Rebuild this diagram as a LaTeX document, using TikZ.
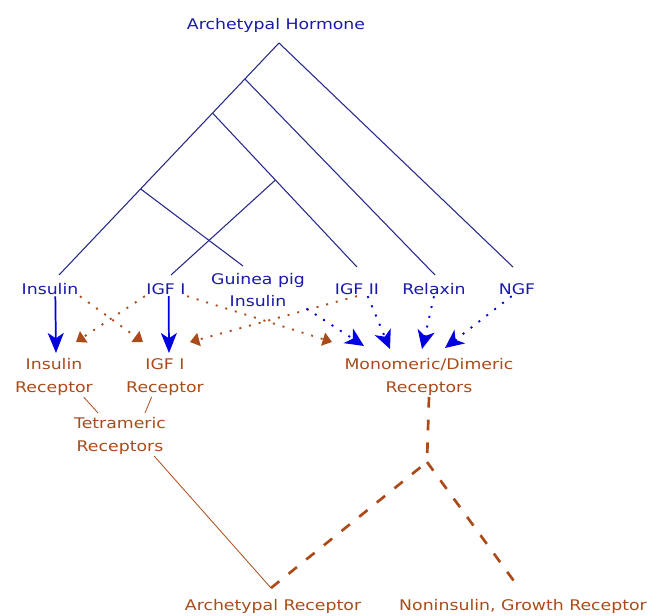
\documentclass[tikz,border=0pt]{standalone}
\usepackage{fontspec}
\setmainfont{DejaVu Sans}[FakeStretch=1.18]
\usepackage{xcolor}
\usetikzlibrary{positioning,arrows.meta,calc}
\definecolor{hormblue}{RGB}{25,25,170}
\definecolor{treeblue}{RGB}{40,40,140}
\definecolor{arrblue}{RGB}{0,0,225}
\definecolor{recbrown}{RGB}{170,75,25}

\begin{document}
\begin{tikzpicture}[
  x=0.75pt, y=-0.75pt,
  every node/.style={font=\fontsize{11}{17}\selectfont, inner sep=1pt},
  horm/.style={text=hormblue, align=center},
  rec/.style={text=recbrown, align=center},
  tree/.style={draw=treeblue, line width=0.8pt},
  bind/.style={draw=arrblue, line width=1.3pt, -{Stealth[length=15pt, width=12pt, inset=4pt]}},
  weakblue/.style={draw=arrblue, line width=1.4pt, dash pattern=on 1.5pt off 6pt, -{Stealth[length=14pt, width=13pt, inset=4pt]}},
  weakbrown/.style={draw=recbrown, line width=1.4pt, dash pattern=on 1.5pt off 6pt, -{Triangle[length=7pt, width=10pt]}},
  recline/.style={draw=recbrown, line width=0.6pt},
  recdash/.style={draw=recbrown, line width=2pt, dash pattern=on 8pt off 9pt},
]
\useasboundingbox (0,0) rectangle (657,616);

% hormones
\node[horm] (hormone) at (276,25) {Archetypal Hormone};
\node[horm] (ins) at (50,289) {Insulin};
\node[horm] (igf1) at (166,289) {IGF I};
\node[horm] (gpi) at (258,290) {Guinea pig\\Insulin};
\node[horm] (igf2) at (357,289) {IGF II};
\node[horm] (relaxin) at (434,289) {Relaxin};
\node[horm] (ngf) at (517,289) {NGF};

% receptors
\node[rec] (insrec) at (54,377) {Insulin\\Receptor};
\node[rec] (igfrec) at (165,377) {IGF I\\Receptor};
\node[rec] (monorec) at (429,377) {Monomeric/Dimeric\\Receptors};
\node[rec] (tetra) at (120,436) {Tetrameric\\Receptors};
\node[rec] (archrec) at (273,606) {Archetypal Receptor};
\node[rec] (nongrow) at (523,606) {Noninsulin, Growth Receptor};

% hormone tree
\coordinate (root) at (279,43);
\coordinate (insend) at (59,275);
\coordinate (igf1end) at (171,275);
\coordinate (gpiend) at (243,266);
\coordinate (igf2end) at (357,267);
\coordinate (relend) at (435,275);
\coordinate (ngfend) at (513,267);
\coordinate (a) at ($(root)!0.155!(insend)$);
\coordinate (b) at ($(root)!0.302!(insend)$);
\coordinate (c) at ($(root)!0.629!(insend)$);
\coordinate (d) at ($(b)!0.435!(igf2end)$);
\draw[tree] (root) -- (insend);
\draw[tree] (root) -- (ngfend);
\draw[tree] (a) -- (relend);
\draw[tree] (b) -- (igf2end);
\draw[tree] (c) -- (gpiend);
\draw[tree] (d) -- (igf1end);

% binding
\coordinate (insrec-a) at (56,353);
\coordinate (insrec-b) at (76,342);
\coordinate (igfrec-a) at (169,353);
\coordinate (igfrec-b) at (143,342);
\coordinate (igfrec-c) at (190,342);
\coordinate (mono-a) at (332,342);
\coordinate (mono-b) at (364,346);
\coordinate (mono-c) at (390,349);
\coordinate (mono-d) at (422,349);
\coordinate (mono-e) at (445,348);
\draw[bind] ([xshift=4pt]ins.south) -- (insrec-a);
\draw[bind] ([xshift=2pt]igf1.south) -- (igfrec-a);
\draw[weakbrown] (ins.south east) -- (igfrec-b);
\draw[weakbrown] (igf1.south west) -- (insrec-b);
\draw[weakbrown] (igf1.south east) -- (mono-a);
\draw[weakbrown] (igf2.south) -- (igfrec-c);
\draw[weakblue] (gpi.south east) -- (mono-b);
\draw[weakblue] ([xshift=8pt]igf2.south) -- (mono-c);
\draw[weakblue] (relaxin.south) -- (mono-d);
\draw[weakblue] ([xshift=-4pt]ngf.south) -- (mono-e);

% receptor tree
\coordinate (tetra-l) at (98,413);
\coordinate (tetra-r) at (145,413);
\coordinate (junct) at (427,462);
\coordinate (archtop) at (271,588);
\coordinate (growtop) at (519,588);
\draw[recline] ([xshift=-8pt]insrec.south east) -- (tetra-l);
\draw[recline] ([xshift=-10pt]igfrec.south) -- (tetra-r);
\draw[recline] ([xshift=-10pt]tetra.south east) -- (archtop);
\draw[recdash] (monorec.south) -- (junct);
\draw[recdash] (archtop) -- (junct);
\draw[recdash] (junct) -- (growtop);
\end{tikzpicture}
\end{document}
